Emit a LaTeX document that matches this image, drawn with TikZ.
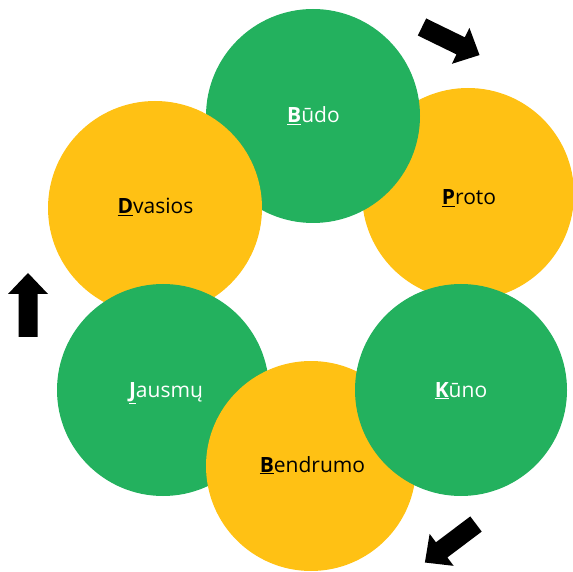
\documentclass[tikz,border=0pt]{standalone}
\usepackage{fontspec}
\setmainfont{Open Sans}
\definecolor{cgreen}{RGB}{35,177,94}
\definecolor{cyellow}{RGB}{255,193,20}
\newcommand{\fl}[1]{\underline{\textbf{#1}}}
\tikzset{
  blockarr/.pic={\fill[black] (0,-9.5) -- (43,-9.5) -- (43,-20) -- (64,0) -- (43,20) -- (43,9.5) -- (0,9.5) -- cycle;}
}
\begin{document}
\begin{tikzpicture}[x=1pt,y=1pt,
  disc/.style={circle, inner sep=0pt, draw=none},
  gdisc/.style={disc, fill=cgreen},
  ydisc/.style={disc, fill=cyellow},
  lbl/.style={anchor=base, font=\fontsize{21}{25}\selectfont},
  glbl/.style={lbl, text=white},
  ylbl/.style={lbl, text=black}]
\useasboundingbox (0,0) rectangle (573,571);
\node[ydisc, minimum size=212pt] (proto) at (468,377) {};
\node[gdisc, minimum size=214pt] (budo) at (313,455) {};
\node[ydisc, minimum size=214pt] (dvasios) at (155,363) {};
\node[gdisc, minimum size=212pt] (jausmu) at (163,181) {};
\node[ydisc, minimum size=210pt] (bendrumo) at (311,105) {};
\node[gdisc, minimum size=212pt] (kuno) at (461,181) {};
\node[glbl] (lbudo) at (313.5,448) {\fl{B}ūdo};
\node[ylbl] (lproto) at (469,366) {\fl{P}roto};
\node[ylbl] (ldvasios) at (155.5,357) {\fl{D}vasios};
\node[glbl] (ljausmu) at (166,174) {\fl{J}ausmų};
\node[glbl] (lkuno) at (461,174) {\fl{K}ūno};
\node[ylbl] (lbendrumo) at (312.5,99) {\fl{B}endrumo};
\pic[rotate=-26] at (422,544) {blockarr};
\pic[rotate=90] at (28,234) {blockarr};
\pic[rotate=217] at (476,47) {blockarr};
\end{tikzpicture}
\end{document}
